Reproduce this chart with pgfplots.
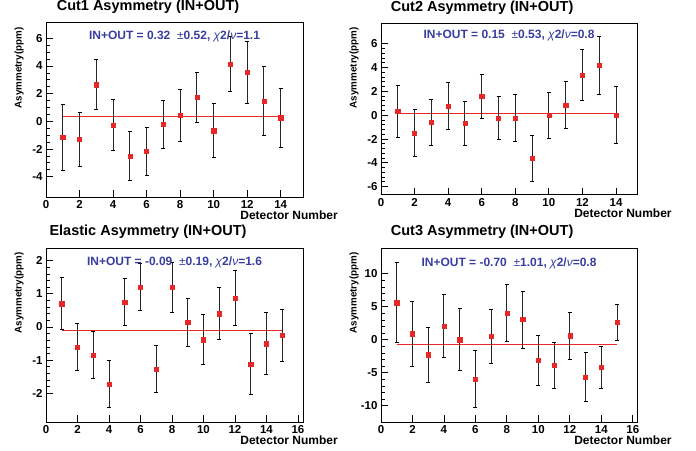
\documentclass[border=0pt]{standalone}
\usepackage{fontspec}
\setmainfont{Liberation Sans}
\usepackage{pgfplots}
\pgfplotsset{compat=1.18}
\definecolor{rootred}{RGB}{232,40,40}
\definecolor{rootblue}{RGB}{56,62,158}
\newcommand{\tickfont}{\fontsize{11.5bp}{12bp}\selectfont\bfseries}
\newcommand{\labfont}{\fontsize{12bp}{13bp}\selectfont\bfseries}
\newcommand{\ylabfont}{\fontsize{9.8bp}{11bp}\selectfont\bfseries}
\newcommand{\titfont}{\fontsize{14.5bp}{15bp}\selectfont\bfseries}
\newcommand{\fitfont}{\fontsize{12bp}{13bp}\selectfont\bfseries}
\newcommand{\fittext}[4]{IN+OUT = #1 \ {\mdseries ±}#2, {\mdseries\itshape χ}2/{\mdseries\itshape ν}=#3}
\pgfplotsset{
  rootax/.style={
    scale only axis, width=257bp, height=174bp,
    anchor=north west,
    axis line style={line width=1bp, black},
    tick align=inside, xtick pos=left, ytick pos=left,
    major tick length=7bp, minor tick length=4bp,
    every tick/.style={black, line width=0.8bp},
    xmin=0, xtick={0,2,...,16}, minor x tick num=0,
    tick label style={font=\tickfont},
    /pgf/number format/assume math mode=true,
    xlabel={Detector Number}, ylabel={Asymmetry(ppm)},
    xlabel style={at={(axis description cs:1.136,-0.08)}, anchor=north east, font=\labfont, inner sep=0pt},
    ylabel style={at={(axis description cs:-0.105,0.975)}, anchor=east, font=\ylabfont, inner sep=0pt},
    title style={at={(axis description cs:0.397,1.035)}, anchor=base, font=\titfont, inner sep=0pt},
  },
  datapl/.style={only marks, mark=square*, mark size=2.1bp,
    mark options={draw=rootred, fill=rootred},
    error bars/.cd, y dir=both, y explicit,
    error bar style={line width=0.9bp, black!85},
    error mark options={rotate=90, mark size=2bp, line width=0.9bp, black}},
  fitpl/.style={rootred, line width=0.9bp, no marks},
}
\begin{document}
\begin{tikzpicture}
\useasboundingbox (0,0) rectangle (696bp,-451bp);
% Panel 1
\begin{axis}[rootax, at={(46bp,-23bp)}, title={Cut1 Asymmetry (IN+OUT)},
  xmax=15.33, ymin=-5.47, ymax=7.11, ytick={-4,-2,...,6}, minor y tick num=3]
\addplot[fitpl] coordinates {(1,0.32) (14,0.32)};
\addplot[datapl] coordinates {
(1,-1.15) +- (0,2.4)
(2,-1.3) +- (0,1.95)
(3,2.65) +- (0,1.8)
(4,-0.27) +- (0,1.87)
(5,-2.5) +- (0,1.8)
(6,-2.17) +- (0,1.75)
(7,-0.22) +- (0,1.71)
(8,0.45) +- (0,1.87)
(9,1.74) +- (0,1.8)
(10,-0.68) +- (0,1.94)
(11,4.14) +- (0,2.0)
(12,3.54) +- (0,2.25)
(13,1.48) +- (0,2.5)
(14,0.26) +- (0,2.15)
};
\node[anchor=base, text=rootblue, font=\fitfont] at (axis description cs:0.5,0.908) {\fittext{0.32}{0.52}{1.1}{}};
\end{axis}
% Panel 2
\begin{axis}[rootax, at={(381bp,-23bp)}, width=256bp, height=172bp, title={Cut2 Asymmetry (IN+OUT)},
  xmax=15.25, ymin=-6.7, ymax=7.74, ytick={-6,-4,...,6}, minor y tick num=4,
  title style={at={(axis description cs:0.395,1.035)}}]
\addplot[fitpl] coordinates {(1,0.15) (14,0.15)};
\addplot[datapl] coordinates {
(1,0.32) +- (0,2.18)
(2,-1.48) +- (0,1.97)
(3,-0.62) +- (0,1.9)
(4,0.75) +- (0,1.96)
(5,-0.70) +- (0,1.88)
(6,1.57) +- (0,1.85)
(7,-0.26) +- (0,1.8)
(8,-0.22) +- (0,1.98)
(9,-3.64) +- (0,1.92)
(10,-0.03) +- (0,1.95)
(11,0.86) +- (0,1.96)
(12,3.36) +- (0,2.15)
(13,4.17) +- (0,2.42)
(14,0.0) +- (0,2.41)
};
\node[anchor=base, text=rootblue, font=\fitfont] at (axis description cs:0.5,0.907) {\fittext{0.15}{0.53}{0.8}{}};
\end{axis}
% Panel 3
\begin{axis}[rootax, at={(46bp,-248bp)}, title={Elastic Asymmetry (IN+OUT)},
  xmax=16.32, ymin=-2.86, ymax=2.38, ytick={-2,-1,...,2}, minor y tick num=4]
\addplot[fitpl] coordinates {(1,-0.09) (15,-0.09)};
\addplot[datapl] coordinates {
(1,0.70) +- (0,0.78)
(2,-0.60) +- (0,0.71)
(3,-0.85) +- (0,0.71)
(4,-1.71) +- (0,0.71)
(5,0.75) +- (0,0.71)
(6,1.21) +- (0,0.71)
(7,-1.26) +- (0,0.71)
(8,1.19) +- (0,0.74)
(9,0.15) +- (0,0.72)
(10,-0.38) +- (0,0.75)
(11,0.40) +- (0,0.78)
(12,0.88) +- (0,0.82)
(13,-1.11) +- (0,0.92)
(14,-0.50) +- (0,0.93)
(15,-0.25) +- (0,0.79)
};
\node[anchor=base, text=rootblue, font=\fitfont] at (axis description cs:0.5,0.897) {\fittext{-0.09}{0.19}{1.6}{}};
\end{axis}
% Panel 4
\begin{axis}[rootax, at={(381bp,-248bp)}, width=256bp, title={Cut3 Asymmetry (IN+OUT)},
  xmax=16.27, ymin=-12.47, ymax=13.9, ytick={-10,-5,...,10}, minor y tick num=4,
  title style={at={(axis description cs:0.395,1.035)}}]
\addplot[fitpl] coordinates {(1,-0.70) (15,-0.70)};
\addplot[datapl] coordinates {
(1,5.6) +- (0,6.05)
(2,0.9) +- (0,4.9)
(3,-2.27) +- (0,4.2)
(4,2.07) +- (0,4.8)
(5,0.0) +- (0,4.72)
(6,-5.96) +- (0,4.3)
(7,0.5) +- (0,4.1)
(8,4.04) +- (0,4.3)
(9,3.05) +- (0,4.3)
(10,-3.08) +- (0,3.8)
(11,-3.9) +- (0,3.55)
(12,0.6) +- (0,3.6)
(13,-5.66) +- (0,3.7)
(14,-4.2) +- (0,3.2)
(15,2.63) +- (0,2.68)
};
\node[anchor=base, text=rootblue, font=\fitfont] at (axis description cs:0.5,0.895) {\fittext{-0.70}{1.01}{0.8}{}};
\end{axis}
\end{tikzpicture}
\end{document}
